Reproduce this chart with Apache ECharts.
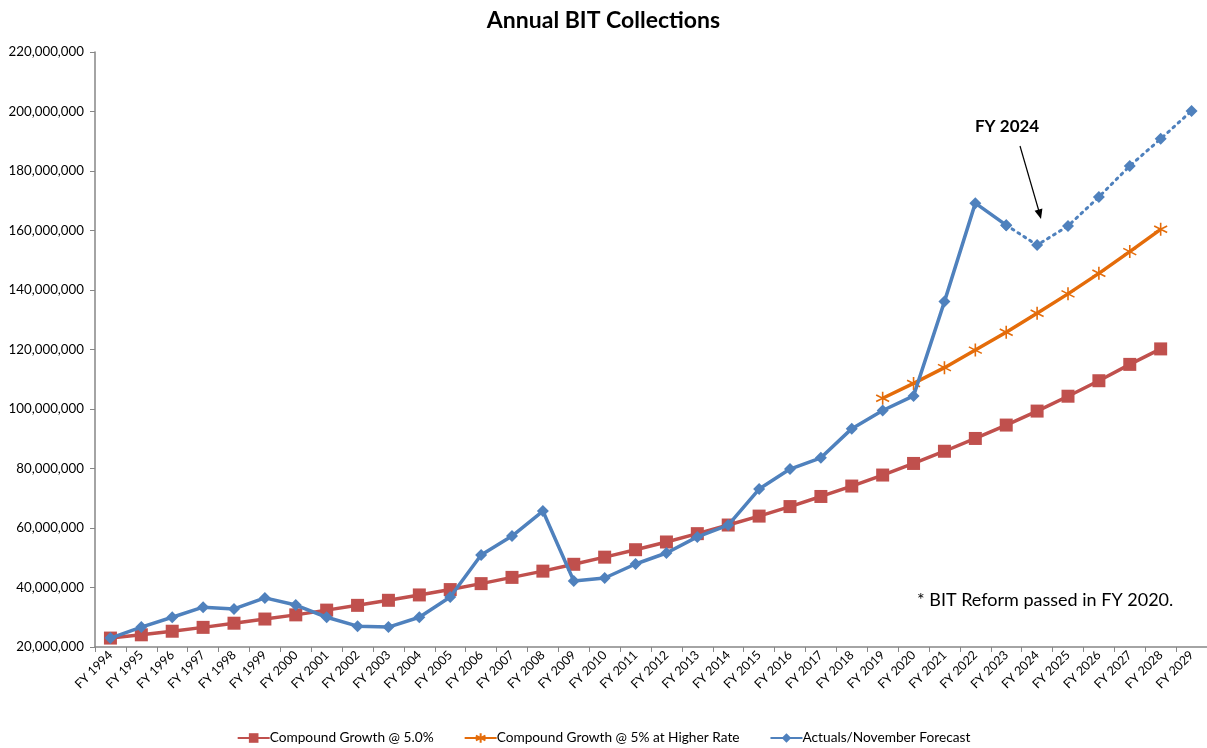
<!DOCTYPE html>
<html>
<head>
<meta charset="utf-8">
<title>Annual BIT Collections</title>
<script src="https://cdn.jsdelivr.net/npm/echarts@6/dist/echarts.min.js"></script>
<style>
  html, body { margin: 0; padding: 0; background: #ffffff; }
  #chart { width: 1207px; height: 748px; }
</style>
</head>
<body>
<div id="chart"></div>
<script>
// Fiscal years on the category axis
const years = [];
for (let y = 1994; y <= 2029; y++) years.push('FY ' + y);

// Collections, in millions of dollars
const compound5 = [23.0, 24.1, 25.3, 26.6, 28.0, 29.4, 30.8, 32.4, 34.0, 35.7, 37.5, 39.3,
  41.3, 43.4, 45.5, 47.8, 50.2, 52.7, 55.3, 58.1, 61.0, 64.0, 67.2, 70.6, 74.1, 77.8,
  81.7, 85.8, 90.1, 94.6, 99.3, 104.3, 109.5, 115.0, 120.2, null];

const compoundHigher = [null, null, null, null, null, null, null, null, null, null, null, null,
  null, null, null, null, null, null, null, null, null, null, null, null, null, 103.6,
  108.6, 113.9, 119.8, 125.8, 132.2, 138.7, 145.6, 152.9, 160.4, null];

const actuals = [23.0, 26.7, 30.0, 33.4, 32.8, 36.5, 34.1, 30.0, 27.0, 26.7, 30.0, 36.8,
  50.9, 57.3, 65.7, 42.2, 43.2, 47.9, 51.6, 57.0, 61.0, 73.1, 79.8, 83.6, 93.4, 99.5,
  104.4, 136.1, 169.2, 161.8, null, null, null, null, null, null];

const forecast = [null, null, null, null, null, null, null, null, null, null, null, null,
  null, null, null, null, null, null, null, null, null, null, null, null, null, null,
  null, null, null, 161.8, 155.1, 161.5, 171.3, 181.7, 190.8, 200.2];

const yTicks = { min: 20, max: 220, step: 20 };

const toDollars = arr => arr.map(v => (v == null ? null : v * 1e6));

const RED = '#C0504D';
const ORANGE = '#E46C0A';
const BLUE = '#4F81BD';
const FONT = 'Lato, "Open Sans", sans-serif';

const asterisk = 'path://M0,-10L0,10M-8.66,-5L8.66,5M-8.66,5L8.66,-5';

const chart = echarts.init(document.getElementById('chart'), null, { renderer: 'canvas' });

chart.setOption({
  animation: false,
  backgroundColor: '#ffffff',
  textStyle: { fontFamily: FONT },
  title: {
    text: 'Annual BIT Collections',
    left: 'center',
    top: 4,
    textStyle: { fontFamily: FONT, fontSize: 23, fontWeight: 'bold', color: '#000' }
  },
  legend: {
    data: ['Compound Growth @ 5.0%', 'Compound Growth @ 5% at Higher Rate', 'Actuals/November Forecast'],
    bottom: -2,
    left: 'center',
    itemGap: 30,
    itemWidth: 32,
    itemHeight: 12,
    textStyle: { fontFamily: FONT, fontSize: 13.7, color: '#000', padding: [0, 0, 0, -5] }
  },
  grid: { left: 95, right: 0, top: 52, bottom: 101 },
  xAxis: {
    type: 'category',
    data: years,
    boundaryGap: true,
    axisLine: { lineStyle: { color: '#868686', width: 1.5 } },
    axisTick: { show: true, length: 5, lineStyle: { color: '#868686' } },
    axisLabel: { rotate: 45, interval: 0, fontFamily: FONT, fontSize: 12.5, color: '#000', margin: 6 },
    splitLine: { show: false }
  },
  yAxis: {
    type: 'value',
    min: yTicks.min * 1e6,
    max: yTicks.max * 1e6,
    interval: yTicks.step * 1e6,
    axisLine: { show: true, lineStyle: { color: '#868686', width: 1.5 } },
    axisTick: { show: true, length: 5, lineStyle: { color: '#868686' } },
    splitLine: { show: false },
    axisLabel: {
      fontFamily: FONT, fontSize: 13.3, color: '#000', margin: 11,
      formatter: v => Math.round(v).toLocaleString('en-US')
    }
  },
  series: [
    {
      name: 'Compound Growth @ 5.0%',
      type: 'line',
      data: toDollars(compound5),
      symbol: 'rect',
      symbolSize: 13,
      lineStyle: { color: RED, width: 3.5 },
      itemStyle: { color: RED, borderWidth: 0 },
      z: 2
    },
    {
      name: 'Compound Growth @ 5% at Higher Rate',
      type: 'line',
      data: toDollars(compoundHigher),
      symbol: asterisk,
      symbolSize: 13,
      lineStyle: { color: ORANGE, width: 3.5 },
      itemStyle: { color: ORANGE, borderColor: ORANGE, borderWidth: 1.6 },
      z: 3
    },
    {
      name: 'Actuals/November Forecast',
      type: 'line',
      data: toDollars(actuals),
      symbol: 'diamond',
      symbolSize: 12,
      lineStyle: { color: BLUE, width: 3.5 },
      itemStyle: { color: BLUE, borderWidth: 0 },
      z: 4
    },
    {
      name: 'November Forecast (projected)',
      type: 'line',
      data: toDollars(forecast),
      symbol: 'diamond',
      symbolSize: 12,
      lineStyle: { color: BLUE, width: 3, type: [2, 5], cap: 'round' },
      itemStyle: { color: BLUE, borderWidth: 0 },
      z: 4
    }
  ],
  graphic: [
    {
      type: 'text',
      left: 975, top: 118,
      style: { text: 'FY 2024', font: 'bold 17px ' + FONT, fill: '#000' }
    },
    {
      type: 'line',
      shape: { x1: 1020, y1: 146, x2: 1038.6, y2: 210 },
      style: { stroke: '#000', lineWidth: 1.2 }
    },
    {
      type: 'polygon',
      shape: { points: [[1042.4, 208.6], [1034.6, 210.8], [1041, 219]] },
      style: { fill: '#000' }
    },
    {
      type: 'text',
      left: 917, top: 591,
      style: { text: '* BIT Reform passed in FY 2020.', font: '18px ' + FONT, fill: '#000' }
    }
  ]
});
</script>
</body>
</html>
